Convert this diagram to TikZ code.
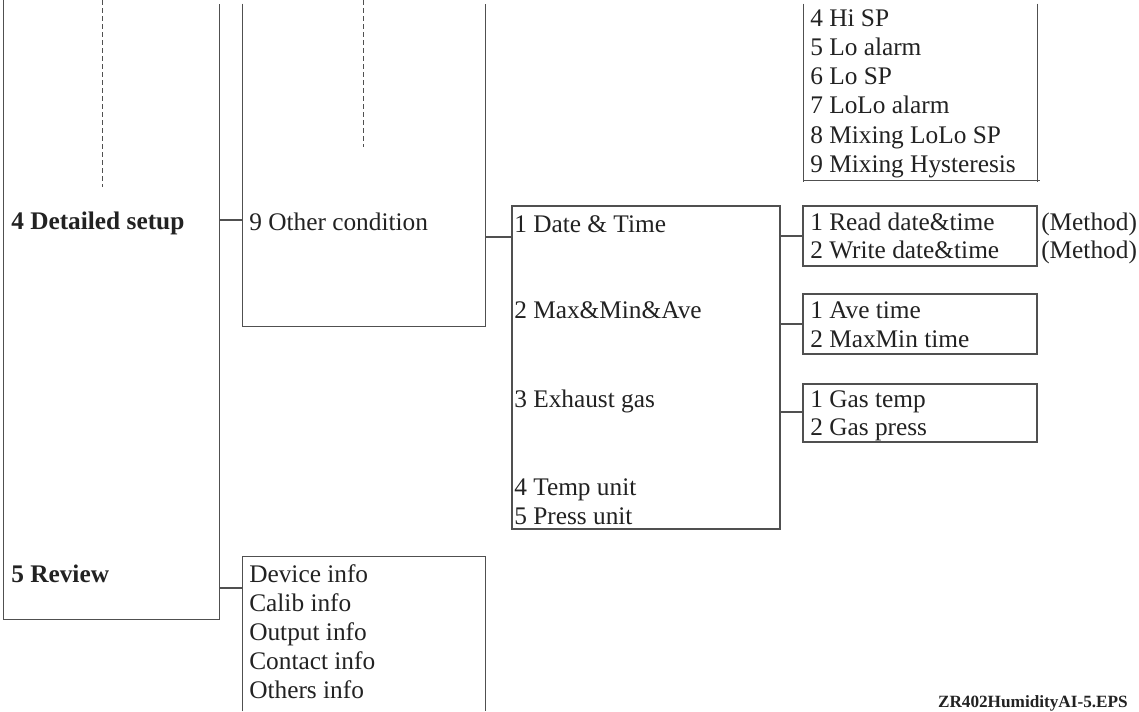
\documentclass[tikz,border=0pt]{standalone}
\usepackage{fontspec}
\setmainfont{Liberation Serif}
\usetikzlibrary{fit}
\definecolor{ln}{HTML}{505050}
\definecolor{tx}{HTML}{222222}
\begin{document}
\begin{tikzpicture}[x=0.75pt,y=-0.75pt,
  lbl/.style={anchor=base west, inner sep=0, text=tx, font=\fontsize{19}{22}\selectfont},
  blbl/.style={anchor=base west, inner sep=0, text=tx, font=\fontsize{19}{22}\selectfont\bfseries},
  frame/.style={inner sep=0, draw=none},
  box/.style={inner sep=0, draw=ln, line width=1pt},
  wire/.style={draw=ln, line width=1pt},
  dashline/.style={draw=ln, line width=0.6pt, dash pattern=on 3.5pt off 2.5pt}]
\useasboundingbox (0,0) rectangle (1139,711);
\fill[white] (0,0) rectangle (1139,711);

% open frames
\node[frame, fit={(4,0)(219,619)}] (L) {};
\node[frame, fit={(243,4)(485,326)}] (B2) {};
\node[frame, fit={(804,4)(1037,180)}] (RT) {};
\node[frame, fit={(243,557)(485,711)}] (RV) {};
\draw[wire] (L.north west) -- (L.south west) -- (L.south east) -- ([yshift=-3pt]L.north east);
\draw[wire] (B2.north west) -- (B2.south west) -- (B2.south east) -- (B2.north east);
\draw[wire] (RT.north west) -- ([yshift=-1.5pt]RT.south west);
\draw[wire] (RT.north east) -- ([yshift=-1.5pt]RT.south east);
\draw[wire] (RT.south west) -- ([xshift=2pt]RT.south east);
\draw[wire] (RV.south west) -- (RV.north west) -- (RV.north east) -- (RV.south east);

% closed boxes
\node[box, fit={(512,206)(780,529)}] (B3) {};
\node[box, fit={(803,206)(1037,266)}] (S1) {};
\node[box, fit={(803,294)(1037,354)}] (S2) {};
\node[box, fit={(803,384)(1037,442)}] (S3) {};

% dashed continuation lines
\coordinate (d1t) at (102,0);
\coordinate (d1b) at (102,187);
\coordinate (d2t) at (363,0);
\coordinate (d2b) at (363,147);
\draw[dashline] (d1t) -- (d1b);
\draw[dashline] (d2t) -- (d2b);

% connectors
\coordinate (y1) at (0,220);
\coordinate (y2) at (0,237);
\coordinate (y3) at (0,236);
\coordinate (y4) at (0,324);
\coordinate (y5) at (0,412);
\coordinate (y6) at (0,588);
\draw[wire] (L.east |- y1) -- (B2.west |- y1);
\draw[wire] (B2.east |- y2) -- (B3.west |- y2);
\draw[wire] (B3.east |- y3) -- (S1.west |- y3);
\draw[wire] (B3.east |- y4) -- (S2.west |- y4);
\draw[wire] (B3.east |- y5) -- (S3.west |- y5);
\draw[wire] (L.east |- y6) -- (RV.west |- y6);

% left column
\node[blbl] (t4) at (11,229) {4 Detailed setup};
\node[blbl] (t5) at (11,582) {5 Review};

% second column
\node[lbl] (t9) at (249,230) {9 Other condition};
\node[lbl] (r1) at (249,582) {Device info};
\node[lbl] (r2) at (249,611) {Calib info};
\node[lbl] (r3) at (249,640) {Output info};
\node[lbl] (r4) at (249,669) {Contact info};
\node[lbl] (r5) at (249,698) {Others info};

% third column
\node[lbl] (o1) at (514,232) {1 Date \& Time};
\node[lbl] (o2) at (514,318) {2 Max\&Min\&Ave};
\node[lbl] (o3) at (514,407) {3 Exhaust gas};
\node[lbl] (o4) at (514,495) {4 Temp unit};
\node[lbl] (o5) at (514,524) {5 Press unit};

% top right list
\node[lbl] (a4) at (810,26) {4 Hi SP};
\node[lbl] (a5) at (810,55) {5 Lo alarm};
\node[lbl] (a6) at (810,84) {6 Lo SP};
\node[lbl] (a7) at (810,113) {7 LoLo alarm};
\node[lbl] (a8) at (810,143) {8 Mixing LoLo SP};
\node[lbl] (a9) at (810,172) {9 Mixing Hysteresis};

% sub boxes
\node[lbl] (s11) at (810,230) {1 Read date\&time};
\node[lbl] (s12) at (810,258) {2 Write date\&time};
\node[lbl] (m1) at (1041,230) {(Method)};
\node[lbl] (m2) at (1041,258) {(Method)};
\node[lbl] (s21) at (810,318) {1 Ave time};
\node[lbl] (s22) at (810,347) {2 MaxMin time};
\node[lbl] (s31) at (810,407) {1 Gas temp};
\node[lbl] (s32) at (810,435) {2 Gas press};

% footer
\node[anchor=base east, inner sep=0, text=tx, font=\fontsize{12.9}{15}\selectfont\bfseries] (ft) at (1128,707) {ZR402HumidityAI-5.EPS};
\end{tikzpicture}
\end{document}
